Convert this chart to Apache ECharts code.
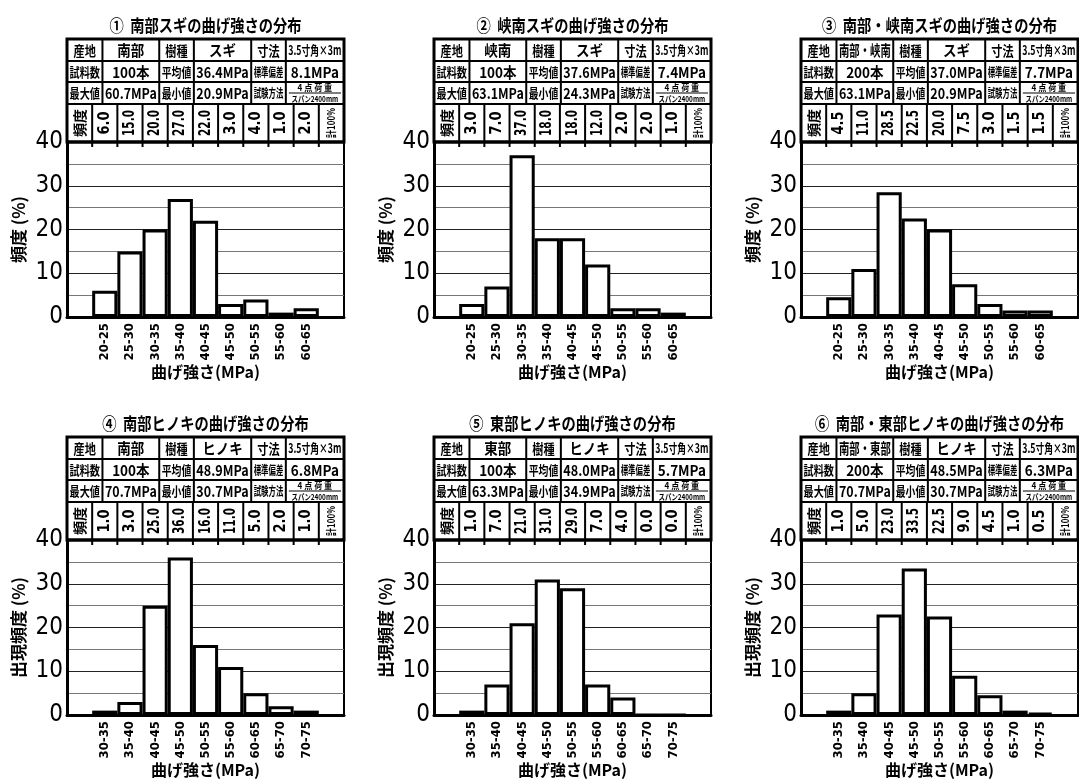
<!DOCTYPE html>
<html>
<head>
<meta charset="utf-8">
<script src="https://cdn.jsdelivr.net/npm/echarts@6/dist/echarts.min.js"></script>
<style>
  html, body { margin: 0; padding: 0; background: #fff; }
  #chart { width: 1079px; height: 780px; }
</style>
</head>
<body>
<div id="chart"></div>
<script>
// Bending-strength classes (MPa)
const sugiClasses = ['20-25', '25-30', '30-35', '35-40', '40-45', '45-50', '50-55', '55-60', '60-65'];
const hinokiClasses = ['30-35', '35-40', '40-45', '45-50', '50-55', '55-60', '60-65', '65-70', '70-75'];

// Frequency (%) of each class
const freqNanbuSugi   = [6.0, 15.0, 20.0, 27.0, 22.0, 3.0, 4.0, 1.0, 2.0];
const freqKyonanSugi  = [3.0, 7.0, 37.0, 18.0, 18.0, 12.0, 2.0, 2.0, 1.0];
const freqAllSugi     = [4.5, 11.0, 28.5, 22.5, 20.0, 7.5, 3.0, 1.5, 1.5];
const freqNanbuHinoki = [1.0, 3.0, 25.0, 36.0, 16.0, 11.0, 5.0, 2.0, 1.0];
const freqTobuHinoki  = [1.0, 7.0, 21.0, 31.0, 29.0, 7.0, 4.0, 0.0, 0.0];
const freqAllHinoki   = [1.0, 5.0, 23.0, 33.5, 22.5, 9.0, 4.5, 1.0, 0.5];

// Panel texts
const panelTitles = [
  '①  南部スギの曲げ強さの分布',
  '②  峡南スギの曲げ強さの分布',
  '③  南部・峡南スギの曲げ強さの分布',
  '④  南部ヒノキの曲げ強さの分布',
  '⑤  東部ヒノキの曲げ強さの分布',
  '⑥  南部・東部ヒノキの曲げ強さの分布'
];
const origins      = ['南部', '峡南', '南部・峡南', '南部', '東部', '南部・東部'];
const speciesNames = ['スギ', 'スギ', 'スギ', 'ヒノキ', 'ヒノキ', 'ヒノキ'];
const sizeSpec     = '3.5寸角×3m';
const sampleCounts = ['100本', '100本', '200本', '100本', '100本', '200本'];
const meanValues   = ['36.4MPa', '37.6MPa', '37.0MPa', '48.9MPa', '48.0MPa', '48.5MPa'];
const stdDevValues = ['8.1MPa', '7.4MPa', '7.7MPa', '6.8MPa', '5.7MPa', '6.3MPa'];
const maxValues    = ['60.7MPa', '63.1MPa', '63.1MPa', '70.7MPa', '63.3MPa', '70.7MPa'];
const minValues    = ['20.9MPa', '24.3MPa', '20.9MPa', '30.7MPa', '34.9MPa', '30.7MPa'];
const testMethod   = ['4 点 荷 重', 'スパン2400mm'];
const yAxisNames   = ['頻度 (%)', '頻度 (%)', '頻度 (%)', '出現頻度 (%)', '出現頻度 (%)', '出現頻度 (%)'];
const xAxisName    = '曲げ強さ(MPa)';
const totalLabel   = '計100%';

const panelClasses = [sugiClasses, sugiClasses, sugiClasses, hinokiClasses, hinokiClasses, hinokiClasses];
const panelFreqs = [freqNanbuSugi, freqKyonanSugi, freqAllSugi, freqNanbuHinoki, freqTobuHinoki, freqAllHinoki];

// Layout
const GRID_LEFT = [67, 434, 801];
const GRID_W = 277;
const GRID_TOP = [142, 540];
const GRID_H = 175;
const TABLE_H = 103;
const HEADER_ROWS = [22, 21, 22];
const HEADER_COLS = [0, 0.128, 0.333, 0.458, 0.665, 0.79, 1];

const JP = '"Noto Sans CJK JP", "Noto Sans CJK SC", sans-serif';
const NUM = '"Liberation Sans Narrow", "DejaVu Sans Condensed", "Liberation Sans", sans-serif';

const chart = echarts.init(document.getElementById('chart'), null, { renderer: 'canvas' });

const grids = [], xAxes = [], yAxes = [], series = [];
for (let i = 0; i < 6; i++) {
  const row = Math.floor(i / 3), col = i % 3;
  grids.push({
    left: GRID_LEFT[col], top: GRID_TOP[row], width: GRID_W, height: GRID_H,
    show: true, borderColor: '#000', borderWidth: 2, backgroundColor: '#fff'
  });
  xAxes.push({
    type: 'category', gridIndex: i,
    data: ['', ...panelClasses[i], ' '],
    axisLine: { lineStyle: { color: '#000', width: 3 } },
    axisTick: { show: false },
    axisLabel: { rotate: 90, interval: 0, fontSize: 13, fontWeight: 'bold', fontFamily: NUM, color: '#000', margin: 6 },
    splitLine: { show: false },
    name: xAxisName, nameLocation: 'middle', nameGap: 45,
    nameTextStyle: { fontSize: 16, fontWeight: 'bold', fontFamily: JP, color: '#000' }
  });
  yAxes.push({
    type: 'value', gridIndex: i, min: 0, max: 40, interval: 10,
    axisLine: { show: true, lineStyle: { color: '#000', width: 3 } },
    axisTick: { show: false },
    axisLabel: { fontSize: 24, fontFamily: NUM, color: '#000', margin: 4 },
    splitLine: { lineStyle: { color: '#222', width: 1 } },
    minorTick: { show: false, splitNumber: 2 },
    minorSplitLine: { show: true, lineStyle: { color: '#777', width: 1 } },
    name: yAxisNames[i], nameLocation: 'middle', nameRotate: 90, nameGap: 40,
    nameTextStyle: { fontSize: 17, fontWeight: 'bold', fontFamily: JP, color: '#000' }
  });
  series.push({
    type: 'bar', xAxisIndex: i, yAxisIndex: i,
    data: ['-', ...panelFreqs[i], '-'],
    barCategoryGap: '0%',
    itemStyle: { color: '#fff', borderColor: '#000', borderWidth: 3 },
    silent: true
  });
}

chart.setOption({
  animation: false,
  backgroundColor: '#fff',
  grid: grids, xAxis: xAxes, yAxis: yAxes, series: series
});

// Text measuring for condensed cell text
const measureCtx = document.createElement('canvas').getContext('2d');
function textWidth(text, size, weight, family) {
  measureCtx.font = weight + ' ' + size + 'px ' + family;
  return measureCtx.measureText(text).width;
}
function fitText(text, cx, cy, room, size, opt) {
  opt = opt || {};
  const weight = opt.weight || 'bold';
  const family = opt.family || JP;
  const base = opt.condense || 0.85;
  const tw = textWidth(text, size, weight, family);
  const s = Math.min(base, room / tw);
  return {
    type: 'text', x: cx, y: cy, scaleX: s, rotation: opt.rotate ? Math.PI / 2 : 0,
    z: 100, silent: true,
    style: { text: text, fontSize: size, fontWeight: weight, fontFamily: family,
             fill: '#000', align: 'center', verticalAlign: 'middle' }
  };
}
function hline(x1, x2, y, w) {
  return { type: 'line', z: 100, silent: true, shape: { x1: x1, y1: y, x2: x2, y2: y },
           style: { stroke: '#000', lineWidth: w } };
}
function vline(x, y1, y2, w) {
  return { type: 'line', z: 100, silent: true, shape: { x1: x, y1: y1, x2: x, y2: y2 },
           style: { stroke: '#000', lineWidth: w } };
}

const graphics = [];
for (let i = 0; i < 6; i++) {
  const row = Math.floor(i / 3), col = i % 3;
  const left = GRID_LEFT[col], right = left + GRID_W, W = right - left;
  const bottom = GRID_TOP[row];
  const top = bottom - TABLE_H;
  const rowY = [top, top + HEADER_ROWS[0], top + HEADER_ROWS[0] + HEADER_ROWS[1],
                top + HEADER_ROWS[0] + HEADER_ROWS[1] + HEADER_ROWS[2], bottom];

  // Column edges of the frequency row follow the category bands
  const centers = [];
  for (let k = 0; k < 11; k++) centers.push(chart.convertToPixel({ xAxisIndex: i }, k));
  const edges = [left];
  for (let k = 0; k < 10; k++) edges.push((centers[k] + centers[k + 1]) / 2);
  edges.push(right);

  // Title
  graphics.push(fitText(panelTitles[i], (left + right) / 2, top - 13, 400, 17, { condense: 0.84 }));

  // Frame and rules
  graphics.push({ type: 'rect', z: 100, silent: true, shape: { x: left, y: top, width: W, height: bottom - top },
                  style: { fill: 'none', stroke: '#000', lineWidth: 3 } });
  for (let r = 1; r <= 3; r++) graphics.push(hline(left, right, rowY[r], 2));
  graphics.push(hline(left - 1, right + 1, bottom, 3));
  const hx = HEADER_COLS.map(f => left + W * f);
  for (let c = 1; c <= 5; c++) graphics.push(vline(hx[c], top, rowY[3], 2));
  for (let k = 1; k <= 10; k++) graphics.push(vline(edges[k], rowY[3], bottom + 5, 2));

  // Header cells
  const headerRows = [
    [['産地', 14], [origins[i], 15], ['樹種', 14], [speciesNames[i], 15], ['寸法', 14], [sizeSpec, 13]],
    [['試料数', 13], [sampleCounts[i], 15], ['平均値', 13], [meanValues[i], 15], ['標準偏差', 12], [stdDevValues[i], 15]],
    [['最大値', 13], [maxValues[i], 15], ['最小値', 13], [minValues[i], 15], ['試験方法', 12], null]
  ];
  for (let r = 0; r < 3; r++) {
    const cy = (rowY[r] + rowY[r + 1]) / 2;
    for (let c = 0; c < 6; c++) {
      const cell = headerRows[r][c];
      if (!cell) continue;
      const cx = (hx[c] + hx[c + 1]) / 2;
      const isValue = c % 2 === 1;
      graphics.push(fitText(cell[0], cx, cy + 0.5, hx[c + 1] - hx[c] - 5, cell[1],
        { condense: isValue ? 0.9 : 0.8 }));
    }
  }
  // Test method cell (two lines)
  {
    const x1 = hx[5], x2 = hx[6], cx = (x1 + x2) / 2, y0 = rowY[2], y1 = rowY[3];
    const mid = (y0 + y1) / 2;
    graphics.push(fitText(testMethod[0], cx, (y0 + mid) / 2 + 0.5, x2 - x1 - 8, 9, { condense: 0.9 }));
    graphics.push(hline(x1 + 3, x2 - 3, mid, 1));
    graphics.push(fitText(testMethod[1], cx, (mid + y1) / 2 + 0.5, x2 - x1 - 6, 8, { condense: 0.8 }));
  }

  // Frequency row
  const fy = (rowY[3] + bottom) / 2;
  const fh = bottom - rowY[3];
  graphics.push(fitText('頻度', (edges[0] + edges[1]) / 2, fy, fh - 4, 14, { rotate: true, condense: 1 }));
  panelFreqs[i].forEach((v, k) => {
    graphics.push(fitText(v.toFixed(1), (edges[k + 1] + edges[k + 2]) / 2, fy, fh - 12, 16,
      { rotate: true, condense: 0.9, family: NUM, weight: 'bold' }));
  });
  graphics.push(fitText(totalLabel, (edges[10] + edges[11]) / 2, fy, fh - 6, 10, { rotate: true, condense: 0.8 }));
}

chart.setOption({ graphic: graphics });
</script>
</body>
</html>
